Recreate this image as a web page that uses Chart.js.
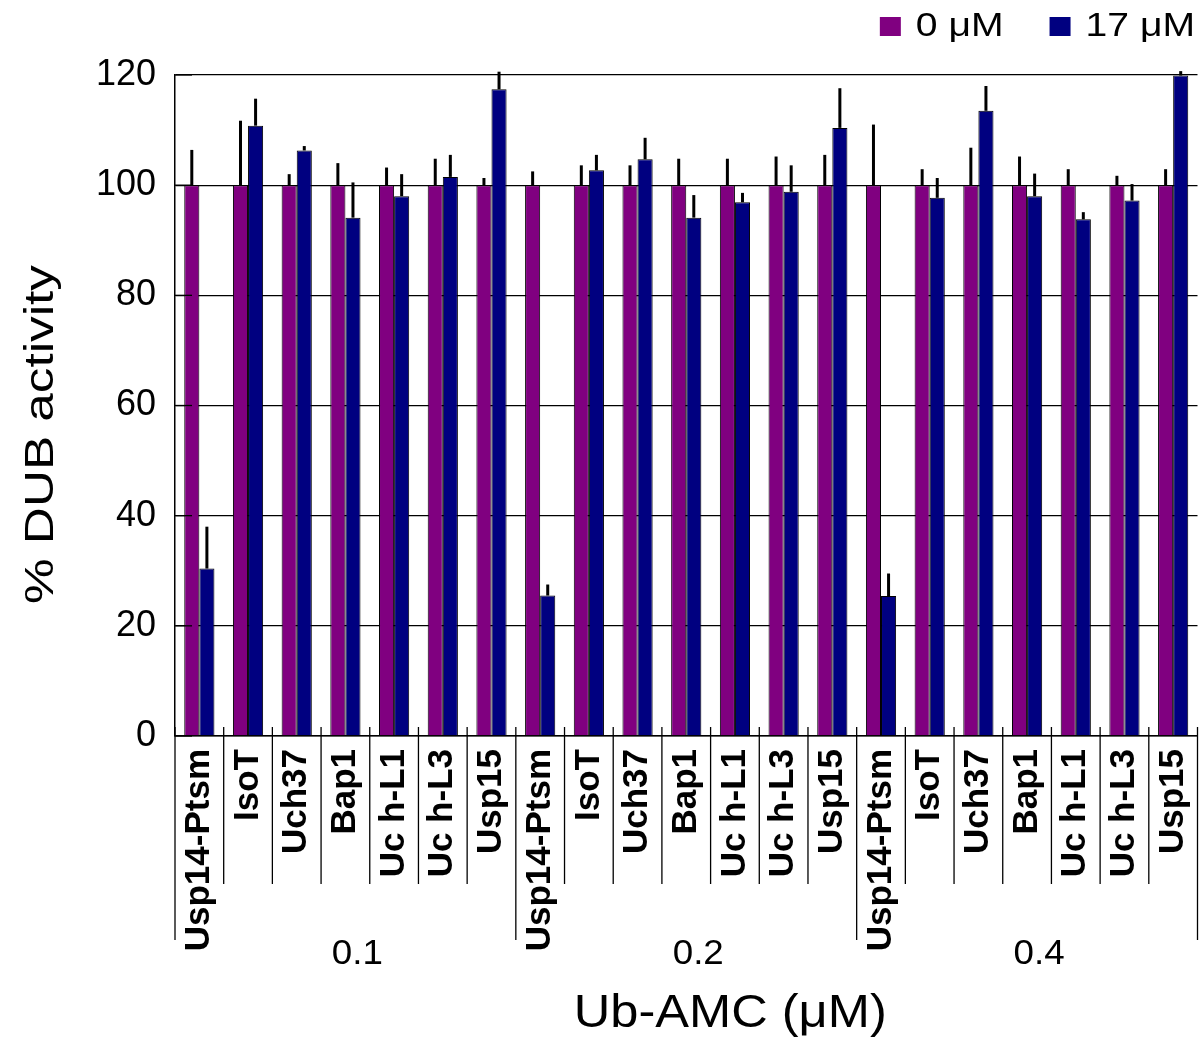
<!DOCTYPE html>
<html>
<head>
<meta charset="utf-8">
<script src="https://cdn.jsdelivr.net/npm/chart.js@4.4.1/dist/chart.umd.min.js"></script>
<style>
  html, body { margin: 0; padding: 0; background: #fff; }
  #wrap { width: 1199px; height: 1043px; }
</style>
</head>
<body>
<div id="wrap"><canvas id="c" width="1199" height="1043"></canvas></div>
<script>
// Deubiquitinase panel, repeated for each Ub-AMC concentration
const enzymes = ["Usp14-Ptsm", "IsoT", "Uch37", "Bap1", "Uc h-L1", "Uc h-L3", "Usp15"];
const ubAmcLevels = ["0.1", "0.2", "0.4"];
const categories = ubAmcLevels.flatMap(() => enzymes);

const seriesNames = ["0 \u03bcM", "17 \u03bcM"];

// % DUB activity without inhibitor (normalised to 100) and its upper error
const activity0 = [100, 100, 100, 100, 100, 100, 100,
                   100, 100, 100, 100, 100, 100, 100,
                   100, 100, 100, 100, 100, 100, 100];
const error0 = [6.4, 11.7, 2.0, 4.0, 3.2, 4.8, 1.3,
                2.5, 3.6, 3.6, 4.8, 4.8, 5.2, 5.5,
                11.0, 2.9, 6.8, 5.2, 2.9, 1.7, 2.9];

// % DUB activity with 17 uM inhibitor and its upper error
const activity17 = [30.4, 110.8, 106.3, 94.1, 98.0, 101.5, 117.4,
                    25.5, 102.7, 104.7, 94.1, 96.9, 98.8, 110.4,
                    25.4, 97.7, 113.5, 98.0, 93.8, 97.2, 119.9];
const error17 = [7.6, 4.9, 0.8, 6.4, 4.0, 4.0, 3.2,
                 2.0, 2.8, 3.9, 4.1, 1.7, 4.8, 7.2,
                 4.1, 3.6, 4.5, 4.1, 1.3, 3.0, 0.8];

const yTicks = [0, 20, 40, 60, 80, 100, 120];

const yTitle = "% DUB activity";
const xTitle = "Ub-AMC (\u03bcM)";

const FONT = "'Liberation Sans', Arial, Helvetica, sans-serif";

// draws text with an optional stretch along its reading direction
function drawText(ctx, text, cx, cy, font, angle, stretch, align) {
  ctx.save();
  ctx.translate(cx, cy);
  ctx.rotate(angle);
  ctx.scale(stretch, 1);
  ctx.font = font;
  ctx.fillStyle = '#000';
  ctx.textAlign = align || 'center';
  ctx.textBaseline = 'middle';
  ctx.fillText(text, 0, 0);
  ctx.restore();
}

const decorations = {
  id: 'decorations',
  afterDatasetsDraw(chart) {
    const { ctx, scales: { x, y }, chartArea } = chart;

    // upper error bars
    ctx.save();
    ctx.strokeStyle = '#000';
    ctx.lineWidth = 3;
    ctx.lineCap = 'butt';
    chart.data.datasets.forEach((ds, di) => {
      const meta = chart.getDatasetMeta(di);
      meta.data.forEach((bar, i) => {
        const v = ds.data[i];
        const e = ds.errors[i];
        ctx.beginPath();
        ctx.moveTo(bar.x, y.getPixelForValue(v));
        ctx.lineTo(bar.x, y.getPixelForValue(v + e));
        ctx.stroke();
      });
    });
    ctx.restore();

    // short inward ticks on the value axis
    ctx.save();
    ctx.strokeStyle = '#000';
    ctx.lineWidth = 1.3;
    yTicks.forEach(v => {
      const py = y.getPixelForValue(v);
      ctx.beginPath();
      ctx.moveTo(chartArea.left, py);
      ctx.lineTo(chartArea.left + 17, py);
      ctx.stroke();
    });
    ctx.restore();
  },
  afterDraw(chart) {
    const { ctx, scales: { x, y }, chartArea } = chart;
    const axisY = chartArea.bottom;

    // category separators below the axis; longer ones split the concentration groups
    ctx.save();
    ctx.strokeStyle = '#000';
    ctx.lineWidth = 1.3;
    for (let i = 0; i <= categories.length; i++) {
      const bx = x.getPixelForValue(i - 0.5);
      const isGroupEdge = i % enzymes.length === 0;
      ctx.beginPath();
      ctx.moveTo(bx, axisY - 9);
      ctx.lineTo(bx, axisY + (isGroupEdge ? 204 : 148));
      ctx.stroke();
    }
    ctx.restore();

    // concentration group labels
    ubAmcLevels.forEach((lvl, g) => {
      const x0 = x.getPixelForValue(g * enzymes.length - 0.5);
      const x1 = x.getPixelForValue((g + 1) * enzymes.length - 0.5);
      drawText(ctx, lvl, (x0 + x1) / 2 + 12, axisY + 218, `35px ${FONT}`, 0, 1.05);
    });

    // axis titles
    const midX = (chartArea.left + chartArea.right) / 2;
    const midY = (chartArea.top + chartArea.bottom) / 2;
    drawText(ctx, xTitle, midX + 44, axisY + 278, `46px ${FONT}`, 0, 1.1);
    drawText(ctx, yTitle, 42, midY + 29, `41px ${FONT}`, -Math.PI / 2, 1.25);

    // legend, right aligned at the top
    const stretch = 1.15;
    ctx.save();
    ctx.font = `34px ${FONT}`;
    let right = chart.width - 4;
    const ly = 27;
    for (let di = chart.data.datasets.length - 1; di >= 0; di--) {
      const ds = chart.data.datasets[di];
      const w = ctx.measureText(ds.label).width * stretch;
      const tx = right - w;
      drawText(ctx, ds.label, tx, ly, `34px ${FONT}`, 0, stretch, 'left');
      const bx = tx - 15 - 21;
      ctx.fillStyle = ds.backgroundColor;
      ctx.fillRect(bx, ly - 10, 21, 19);
      right = bx - 46;
    }
    ctx.restore();
  }
};

new Chart(document.getElementById('c'), {
  type: 'bar',
  data: {
    labels: categories,
    datasets: [
      { label: seriesNames[0], data: activity0, errors: error0,
        backgroundColor: '#800080', borderColor: '#000', borderWidth: 1,
        categoryPercentage: 0.62, barPercentage: 1.0 },
      { label: seriesNames[1], data: activity17, errors: error17,
        backgroundColor: '#000080', borderColor: '#000', borderWidth: 1,
        categoryPercentage: 0.62, barPercentage: 1.0 }
    ]
  },
  options: {
    responsive: false,
    animation: false,
    devicePixelRatio: 1,
    layout: { padding: { top: 75, right: 1.5, left: 0, bottom: 0 } },
    plugins: { legend: { display: false }, tooltip: { enabled: false } },
    scales: {
      x: {
        grid: { display: false },
        border: { display: true, color: '#000', width: 1.5 },
        ticks: {
          autoSkip: false, minRotation: 90, maxRotation: 90, padding: 5,
          color: '#000', font: { family: FONT, size: 35, weight: 'bold' }
        },
        afterFit(s) { s.height = 307; s.paddingLeft = 0; s.paddingRight = 0; }
      },
      y: {
        min: 0, max: 120,
        afterBuildTicks(s) { s.ticks = yTicks.map(v => ({ value: v })); },
        grid: { color: '#000', lineWidth: 1.3, drawTicks: false },
        border: { display: true, color: '#000', width: 1.5 },
        ticks: { padding: 19, color: '#000', font: { family: FONT, size: 36 } },
        afterFit(s) { s.width = 175; }
      }
    }
  },
  plugins: [decorations]
});
</script>
</body>
</html>
